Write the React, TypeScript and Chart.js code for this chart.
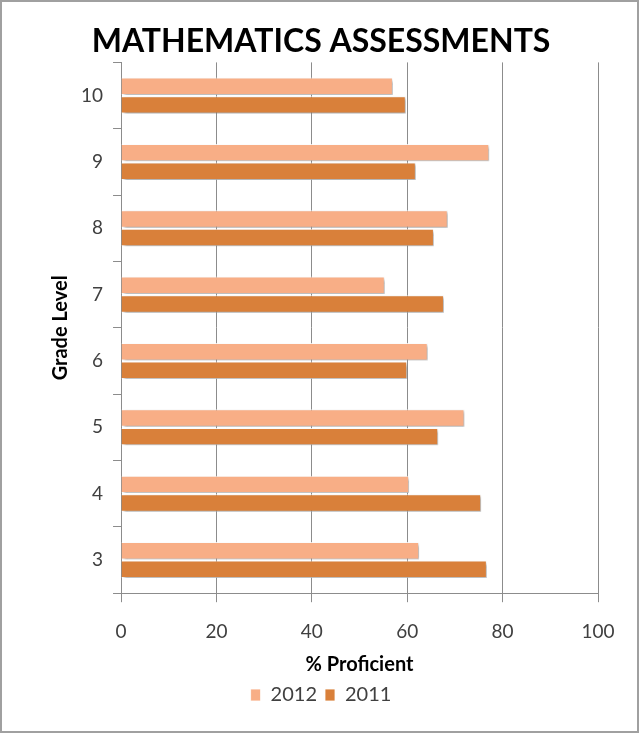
import React, { useEffect, useRef } from "react";
import { Chart, registerables } from "chart.js";

Chart.register(...registerables);

const grades = ["10", "9", "8", "7", "6", "5", "4", "3"];
const values2012 = [57, 77.2, 68.5, 55.3, 64.3, 72, 60.4, 62.5];
const values2011 = [59.7, 61.8, 65.6, 67.7, 60, 66.5, 75.5, 76.7];
const xTicks = [0, 20, 40, 60, 80, 100];

const FONT = "Lato, 'Open Sans', sans-serif";

const shadowPlugin = {
  id: "barShadow",
  beforeDatasetsDraw(chart: any) {
    const ctx = chart.ctx;
    ctx.save();
    ctx.shadowColor = "rgba(0,0,0,0.35)";
    ctx.shadowOffsetX = 2;
    ctx.shadowOffsetY = 2;
    ctx.shadowBlur = 3;
  },
  afterDatasetsDraw(chart: any) {
    chart.ctx.restore();
  },
};

export default function App() {
  const ref = useRef<HTMLCanvasElement | null>(null);
  useEffect(() => {
    if (!ref.current) return;
    const chart = new Chart(ref.current, {
      type: "bar",
      data: {
        labels: grades,
        datasets: [
          {
            label: "2012",
            data: values2012,
            backgroundColor: "#F8AE86",
            borderColor: "rgba(255,255,255,0.8)",
            borderWidth: 1,
            categoryPercentage: 0.56,
            barPercentage: 0.94,
          },
          {
            label: "2011",
            data: values2011,
            backgroundColor: "#D9803A",
            borderColor: "rgba(255,255,255,0.8)",
            borderWidth: 1,
            categoryPercentage: 0.56,
            barPercentage: 0.94,
          },
        ],
      },
      options: {
        indexAxis: "y",
        responsive: false,
        animation: false,
        layout: { padding: { left: 42, right: 39, top: 0, bottom: 16 } },
        scales: {
          x: {
            min: 0,
            max: 100,
            afterBuildTicks: (scale: any) => {
              scale.ticks = xTicks.map((v) => ({ value: v }));
            },
            grid: {
              color: "#8c8c8c",
              lineWidth: 1,
              tickLength: 9,
            },
            border: { color: "#8c8c8c" },
            ticks: {
              color: "#404040",
              font: { family: FONT, size: 19 },
              padding: 18,
            },
            title: {
              display: true,
              text: "% Proficient",
              color: "#000",
              font: { family: FONT, size: 20, weight: "bold" },
              padding: { top: -8, bottom: 0 },
            },
          },
          y: {
            grid: {
              drawOnChartArea: false,
              color: "#8c8c8c",
              tickLength: 8,
            },
            border: { color: "#8c8c8c" },
            ticks: {
              color: "#404040",
              font: { family: FONT, size: 19 },
              padding: 10,
            },
            title: {
              display: true,
              text: "Grade Level",
              color: "#000",
              font: { family: FONT, size: 20, weight: "bold" },
              padding: { top: 5, bottom: -2 },
            },
          },
        },
        plugins: {
          title: {
            display: true,
            text: "MATHEMATICS ASSESSMENTS",
            color: "#000",
            font: { family: FONT, size: 32, weight: "bold" },
            padding: { top: 20, bottom: 2 },
          },
          legend: {
            position: "bottom",
            labels: {
              color: "#404040",
              font: { family: FONT, size: 20 },
              boxWidth: 10,
              boxHeight: 12,
              padding: 8,
            },
          },
          tooltip: { enabled: false },
        },
      },
      plugins: [shadowPlugin],
    } as any);
    return () => chart.destroy();
  }, []);
  return (
    <div
      style={{
        position: "absolute",
        left: 0,
        top: 0,
        width: 639,
        height: 733,
        boxSizing: "border-box",
        border: "2px solid #a0a0a0",
        background: "#fff",
      }}
    >
      <canvas ref={ref} width={635} height={729} style={{ display: "block" }} />
    </div>
  );
}
